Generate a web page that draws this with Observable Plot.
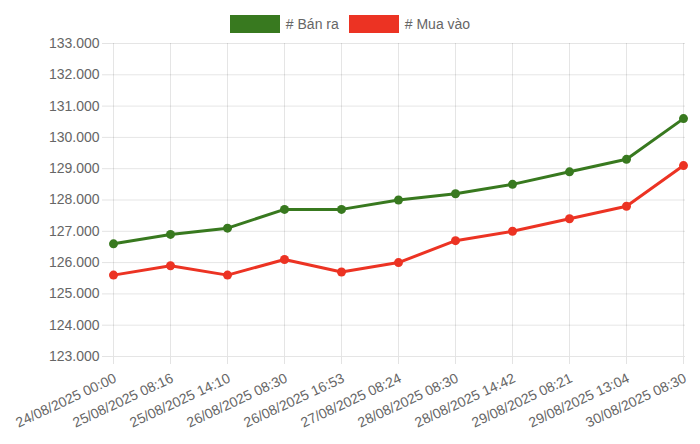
<!DOCTYPE html>
<html>
<head>
<meta charset="utf-8">
<script src="https://cdn.jsdelivr.net/npm/d3@7"></script>
<script src="https://cdn.jsdelivr.net/npm/@observablehq/plot@0.6"></script>
<style>
  body { margin: 0; background: #fff; font-family: "Liberation Sans", Arial, sans-serif; }
  #legend { height: 34px; display: flex; justify-content: center; align-items: flex-start; box-sizing: border-box; padding-top: 15px; font-size: 14px; color: #666; }
  #legend span.item { display: flex; align-items: center; margin: 0 5px; }
  #legend span.box { display: inline-block; width: 48px; height: 16px; margin-right: 6px; }
</style>
</head>
<body>
<div id="legend"></div>
<div id="chart"></div>
<script>
const labels = [
  "24/08/2025 00:00", "25/08/2025 08:16", "25/08/2025 14:10", "26/08/2025 08:30",
  "26/08/2025 16:53", "27/08/2025 08:24", "28/08/2025 08:30", "28/08/2025 14:42",
  "29/08/2025 08:21", "29/08/2025 13:04", "30/08/2025 08:30"
];
const banRa = [126600, 126900, 127100, 127700, 127700, 128000, 128200, 128500, 128900, 129300, 130600];
const muaVao = [125600, 125900, 125600, 126100, 125700, 126000, 126700, 127000, 127400, 127800, 129100];
const series = ["# Bán ra", "# Mua vào"];
const colors = ["#38791f", "#ec3323"];

const rows = [
  ...labels.map((t, i) => ({t, v: banRa[i], s: series[0]})),
  ...labels.map((t, i) => ({t, v: muaVao[i], s: series[1]}))
];

const legend = document.getElementById("legend");
series.forEach((s, i) => {
  const item = document.createElement("span");
  item.className = "item";
  item.innerHTML = `<span class="box" style="background:${colors[i]};border:1px solid ${colors[i]}"></span>${s}`;
  legend.appendChild(item);
});

const fmt = d => d3.format(",")(d).replace(/,/g, ".");

const chart = Plot.plot({
  width: 700,
  height: 410,
  marginTop: 9,
  marginLeft: 111,
  marginRight: 15,
  marginBottom: 88,
  style: {fontFamily: "Liberation Sans, Arial, sans-serif", fontSize: "14px", color: "#666"},
  x: {type: "point", domain: labels, padding: 0},
  y: {domain: [123000, 133000]},
  color: {domain: series, range: colors},
  marks: [
    Plot.gridX(labels, {stroke: "#000", strokeOpacity: 0.1}),
    Plot.gridY(d3.range(123000, 133001, 1000), {stroke: "#000", strokeOpacity: 0.1}),
    Plot.axisY(d3.range(123000, 133001, 1000), {tickSize: 9, tickPadding: 3, tickFormat: fmt, stroke: "#e3e3e3", fill: "#666", label: null}),
    Plot.axisX(labels, {tickSize: 8, tickFormat: null, stroke: "#e3e3e3", label: null}),
    // rotated category labels, offset straight down from the frame bottom
    Plot.text(labels, {x: d => d, text: d => d, frameAnchor: "bottom", dx: 2, dy: 21, rotate: -25,
      textAnchor: "end", lineAnchor: "middle", fontSize: 14, fill: "#666"}),
    Plot.lineY(rows, {x: "t", y: "v", stroke: "s", strokeWidth: 3}),
    Plot.dot(rows, {x: "t", y: "v", fill: "s", r: 4.5})
  ]
});
document.getElementById("chart").appendChild(chart);
</script>
</body>
</html>
